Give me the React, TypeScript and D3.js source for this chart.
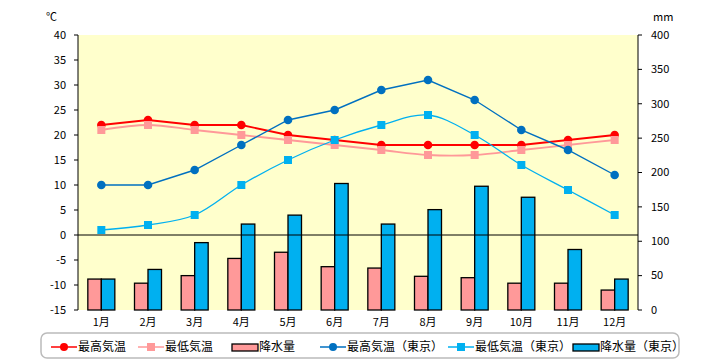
import React from 'react';
import {scaleBand, scaleLinear, line, curveCatmullRom, curveLinear, range} from 'd3';

const months = ['1月', '2月', '3月', '4月', '5月', '6月', '7月', '8月', '9月', '10月', '11月', '12月'];
const maxTemp = [22, 23, 22, 22, 20, 19, 18, 18, 18, 18, 19, 20];
const minTemp = [21, 22, 21, 20, 19, 18, 17, 16, 16, 17, 18, 19];
const rain = [45, 39, 50, 75, 84, 63, 61, 49, 47, 39, 39, 29];
const maxTempTokyo = [10, 10, 13, 18, 23, 25, 29, 31, 27, 21, 17, 12];
const minTempTokyo = [1, 2, 4, 10, 15, 19, 22, 24, 20, 14, 9, 4];
const rainTokyo = [45, 59, 98, 125, 138, 184, 125, 146, 180, 164, 88, 45];

const tempTicks = range(-15, 41, 5);
const rainTicks = range(0, 401, 50);

const FONT = '"Noto Sans CJK JP", "Noto Sans", sans-serif';

const RED = '#FF0000';
const PINK = '#FF9999';
const NAVY = '#0070C0';
const CYAN = '#00B0F0';

const left = 78;
const right = 638;
const top = 35;
const bottom = 310;

const App = () => {
  const x = scaleBand<string>().domain(months).range([left, right]);
  const yT = scaleLinear().domain([-15, 40]).range([bottom, top]);
  const yP = scaleLinear().domain([0, 400]).range([bottom, top]);
  const sub = scaleBand<string>().domain(['a', 'b']).range([0, 27]);

  const cx = (i: number) => (x(months[i]) as number) + x.bandwidth() / 2;
  // max temp series are straight, min temp series are smoothed
  const path = (vals: number[], smooth: boolean) =>
    line<number>()
      .x((_, i) => cx(i))
      .y(d => yT(d))
      .curve(smooth ? curveCatmullRom.alpha(0.5) : curveLinear)(vals) as string;

  const circles = (vals: number[], color: string) =>
    vals.map((v, i) => <circle key={i} cx={cx(i)} cy={yT(v)} r={4.3} fill={color} />);
  const squares = (vals: number[], color: string) =>
    vals.map((v, i) => (
      <rect key={i} x={cx(i) - 4} y={yT(v) - 4} width={8} height={8} fill={color} />
    ));

  const legend = [
    {label: '最高気温', kind: 'c', color: RED, x: 51},
    {label: '最低気温', kind: 's', color: PINK, x: 138},
    {label: '降水量', kind: 'b', color: PINK, x: 232},
    {label: '最高気温（東京）', kind: 'c', color: NAVY, x: 320},
    {label: '最低気温（東京）', kind: 's', color: CYAN, x: 448},
    {label: '降水量（東京）', kind: 'b', color: CYAN, x: 573},
  ];

  return (
    <svg width={720} height={360} style={{position: 'absolute', left: 0, top: 0}} fontFamily={FONT}>
      <rect x={0} y={0} width={720} height={360} fill="#fff" />
      <rect x={left} y={top} width={right - left} height={bottom - top} fill="#FFFFCC" />

      {/* precipitation bars */}
      {months.map((m, i) => {
        const x0 = cx(i) - 13.5;
        return (
          <g key={m} stroke="#000" strokeWidth={1.3}>
            <rect x={x0 + (sub('a') as number)} y={yP(rain[i])} width={sub.bandwidth()} height={bottom - yP(rain[i])} fill={PINK} />
            <rect x={x0 + (sub('b') as number)} y={yP(rainTokyo[i])} width={sub.bandwidth()} height={bottom - yP(rainTokyo[i])} fill={CYAN} />
          </g>
        );
      })}

      {/* zero line */}
      <line x1={left} x2={right} y1={yT(0)} y2={yT(0)} stroke="#000" strokeWidth={1} />

      {/* temperature lines */}
      <path d={path(maxTemp, false)} fill="none" stroke={RED} strokeWidth={1.8} />
      {circles(maxTemp, RED)}
      <path d={path(minTemp, true)} fill="none" stroke={PINK} strokeWidth={1.8} />
      {squares(minTemp, PINK)}
      <path d={path(maxTempTokyo, false)} fill="none" stroke={NAVY} strokeWidth={1.4} />
      {circles(maxTempTokyo, NAVY)}
      <path d={path(minTempTokyo, true)} fill="none" stroke={CYAN} strokeWidth={1.3} />
      {squares(minTempTokyo, CYAN)}

      {/* left axis */}
      <line x1={left} x2={left} y1={top} y2={bottom} stroke="#000" />
      {tempTicks.map(t => (
        <g key={t}>
          <line x1={left - 4} x2={left} y1={yT(t)} y2={yT(t)} stroke="#000" />
          <text x={66} y={yT(t)} dy="0.35em" textAnchor="end" fontSize={11}>{t}</text>
        </g>
      ))}
      <text x={46} y={17} dy="0.35em" fontSize={11}>℃</text>

      {/* right axis */}
      <line x1={right} x2={right} y1={top} y2={bottom} stroke="#000" />
      {rainTicks.map(t => (
        <g key={t}>
          <line x1={right} x2={right + 4} y1={yP(t)} y2={yP(t)} stroke="#000" />
          <text x={651} y={yP(t)} dy="0.35em" fontSize={11}>{t}</text>
        </g>
      ))}
      <text x={653} y={17} dy="0.35em" fontSize={11}>mm</text>

      {/* month labels */}
      {months.map((m, i) => (
        <text key={m} x={cx(i)} y={322} dy="0.35em" textAnchor="middle" fontSize={11}>{m}</text>
      ))}

      {/* legend */}
      <rect x={41} y={333} width={638} height={25} rx={6} fill="#fff" stroke="#BBB" strokeWidth={1.5} />
      {legend.map(l => (
        <g key={l.label}>
          {l.kind === 'b' ? (
            <rect x={l.x} y={344} width={26} height={7} fill={l.color} stroke="#000" strokeWidth={1.3} />
          ) : (
            <line x1={l.x} x2={l.x + 26} y1={347} y2={347} stroke={l.color} strokeWidth={1.5} />
          )}
          {l.kind === 'c' && <circle cx={l.x + 13} cy={347} r={4} fill={l.color} />}
          {l.kind === 's' && <rect x={l.x + 9} y={343} width={8} height={8} fill={l.color} />}
          <text x={l.x + 27} y={347} dy="0.35em" fontSize={12}>{l.label}</text>
        </g>
      ))}
    </svg>
  );
};

export default App;
